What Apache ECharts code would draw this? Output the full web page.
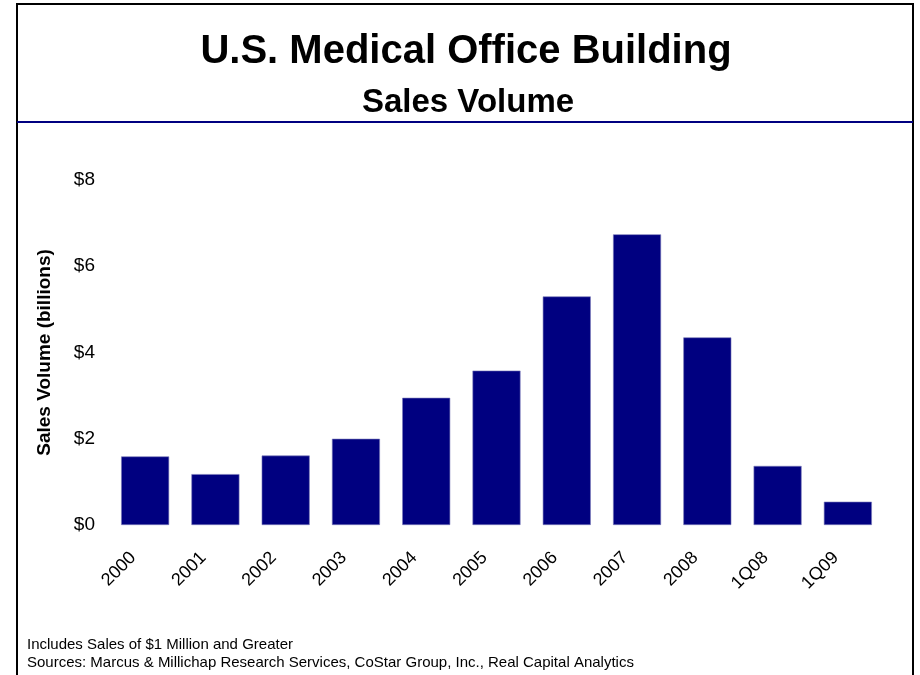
<!DOCTYPE html>
<html>
<head>
<meta charset="utf-8">
<script src="https://cdn.jsdelivr.net/npm/echarts@6/dist/echarts.min.js"></script>
<style>html,body{margin:0;padding:0;background:#fff}#c{width:920px;height:675px}</style>
</head>
<body>
<div id="c"></div>
<script>
var categories = ['2000','2001','2002','2003','2004','2005','2006','2007','2008','1Q08','1Q09'];
var salesVolume = [1.59, 1.18, 1.61, 2.00, 2.95, 3.58, 5.30, 6.74, 4.35, 1.37, 0.54];
var yTicks = [0, 2, 4, 6, 8];

var chart = echarts.init(document.getElementById('c'), null, {renderer: 'canvas'});
var font = 'Liberation Sans, Arial, sans-serif';
chart.setOption({
  animation: false,
  backgroundColor: '#fff',
  title: [
    {text: 'U.S. Medical Office Building', left: 461, top: 27, textAlign: 'center',
     textStyle: {fontFamily: font, fontSize: 40, fontWeight: 'bold', color: '#000'}},
    {text: 'Sales Volume', left: 463, top: 81, textAlign: 'center',
     textStyle: {fontFamily: font, fontSize: 33, fontWeight: 'bold', color: '#000'}}
  ],
  graphic: [
    {type: 'rect', shape: {x: 17, y: 4, width: 896, height: 700},
     style: {fill: 'none', stroke: '#000', lineWidth: 2}},
    {type: 'line', shape: {x1: 17, y1: 122, x2: 913, y2: 122},
     style: {stroke: '#000080', lineWidth: 2}},
    {type: 'text', x: 27, y: 645,
     style: {text: 'Includes Sales of $1 Million and Greater', font: '15px ' + font, fill: '#000', verticalAlign: 'middle'}},
    {type: 'text', x: 27, y: 663,
     style: {text: 'Sources: Marcus & Millichap Research Services, CoStar Group, Inc., Real Capital Analytics', font: '15px ' + font, fill: '#000', verticalAlign: 'middle'}}
  ],
  grid: {left: 110, right: 37, top: 180, bottom: 150, containLabel: false},
  xAxis: {
    type: 'category', data: categories,
    axisLine: {show: false}, axisTick: {show: false},
    axisLabel: {rotate: 45, margin: 18, padding: [0, 17, 0, 0], fontFamily: font, fontSize: 18, color: '#000', interval: 0}
  },
  yAxis: {
    type: 'value', min: yTicks[0], max: yTicks[yTicks.length - 1], interval: 2,
    name: 'Sales Volume (billions)', nameLocation: 'middle', nameGap: 56, nameRotate: 90,
    nameTextStyle: {fontFamily: font, fontSize: 19, fontWeight: 'bold', color: '#000'},
    axisLine: {show: false}, axisTick: {show: false}, splitLine: {show: false},
    axisLabel: {margin: 15, fontFamily: font, fontSize: 19, color: '#000',
      formatter: function (v) { return '$' + v; }}
  },
  series: [{
    type: 'bar', data: salesVolume, barWidth: 48,
    itemStyle: {color: '#000080', borderColor: '#7a7ab8', borderWidth: 0.6}
  }]
});
</script>
</body>
</html>
